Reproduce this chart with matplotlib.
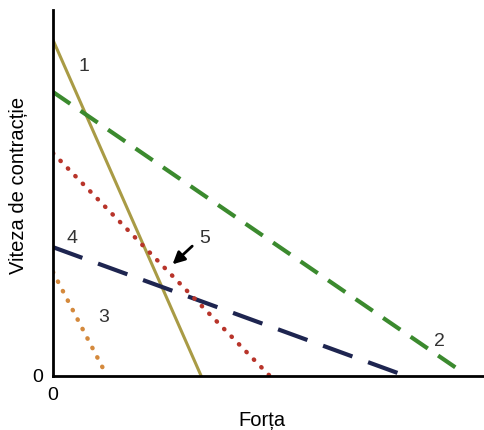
import matplotlib.pyplot as plt
import numpy as np

plt.rcParams['font.family'] = ['Liberation Sans', 'DejaVu Sans']

# curbe forta-viteza: (forta, viteza) la capete
curve_ids = ['1', '2', '3', '4', '5']
force_ends = [[0, 3.43], [0, 9.47], [0, 1.25], [0, 8.17], [0, 5.02]]
speed_ends = [[9.18, 0], [7.76, 0.11], [2.84, 0], [3.52, 0], [6.09, 0]]
colors = ['#a99b45', '#3b8a2e', '#d4893c', '#1e2550', '#b8342a']
label_pos = [(0.72, 8.45), (8.95, 0.95), (1.18, 1.6), (0.45, 3.75), (3.5, 3.75)]

fig = plt.figure(figsize=(4.85, 4.30), dpi=100)
ax = fig.add_axes([53/485, 54/430, 432/485, 366/430])

styles = [
    dict(ls='-', lw=2.2),
    dict(ls=(0, (5, 3)), lw=3),
    dict(ls=(0, (0.1, 2.3)), lw=3.2, dash_capstyle='round'),
    dict(ls=(0, (7.5, 4)), lw=3),
    dict(ls=(0, (0.1, 2.3)), lw=3.2, dash_capstyle='round'),
]
for i in range(5):
    ax.plot(force_ends[i], speed_ends[i], color=colors[i], **styles[i])
    ax.text(label_pos[i][0], label_pos[i][1], curve_ids[i], fontsize=14,
            color='#333333', ha='center', va='center')

# sageata pentru curba 5
ax.annotate('', xy=(2.72, 3.0), xytext=(3.27, 3.6),
            arrowprops=dict(arrowstyle='-|>', color='black', lw=2,
                            mutation_scale=18))

ax.set_xlim(0, 10)
ax.set_ylim(0, 10)
for s in ['top', 'right']:
    ax.spines[s].set_visible(False)
ax.spines['left'].set_linewidth(2)
ax.spines['bottom'].set_linewidth(2)
ax.set_xticks([0])
ax.set_yticks([0])
ax.tick_params(axis='x', length=0, labelsize=14, pad=8)
ax.tick_params(axis='y', length=0, labelsize=14, pad=7)
ax.set_xlabel('Forța', fontsize=14.5)
ax.set_ylabel('Viteza de contracție', fontsize=14.5)
ax.yaxis.set_label_coords(-0.058, 0.52)
ax.xaxis.set_label_coords(0.484, -0.095)

fig.savefig('out.png', dpi=100)
